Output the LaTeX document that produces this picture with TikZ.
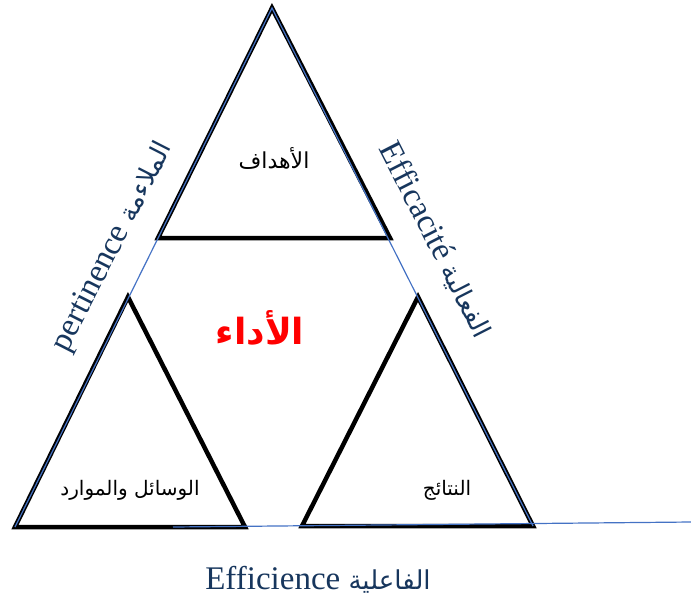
\documentclass[tikz,border=0pt]{standalone}
\usepackage{fontspec}
\setmainfont{Liberation Serif}
\newfontfamily\arabicfont[Script=Arabic]{DejaVu Sans}
\TeXXeTstate=1
\usetikzlibrary{positioning}

\definecolor{frameblue}{RGB}{68,114,196}
\definecolor{labelnavy}{RGB}{23,54,93}

\begin{document}
\begin{tikzpicture}[x=1pt,y=-1pt,
                    tri/.style={draw=black,line width=4.5pt,line join=miter},
                    outline/.style={draw=frameblue,line width=1.2pt},
                    inner/.style={font=\arabicfont\fontsize{20}{24}\selectfont},
                    side/.style={text=labelnavy,font=\fontsize{33}{36}\selectfont,inner sep=0pt}]
\useasboundingbox (0,0) rectangle (691,606);

% corners of the three triangles
\coordinate (top) at (272,8);
\coordinate (topl) at (158,238);
\coordinate (topr) at (390,238);
\coordinate (lefta) at (128,297);
\coordinate (leftl) at (15,527);
\coordinate (leftr) at (245,527);
\coordinate (righta) at (418,297);
\coordinate (rightl) at (302,526);
\coordinate (rightr) at (533,526);
\coordinate (basel) at (173,527);
\coordinate (baser) at (691,522);

\draw[tri] (top) -- (topl) -- (topr) -- cycle;
\draw[tri] (lefta) -- (leftl) -- (leftr) -- cycle;
\draw[tri] (righta) -- (rightl) -- (rightr) -- cycle;

\draw[outline] (leftl) -- (top) -- (rightr);
\draw[outline] (basel) -- (baser);

\node[inner,font=\arabicfont\fontsize{22}{26}\selectfont] (goals) at (274,158) {\beginR الأهداف\endR};
\node[inner] (means) at (130,490) {\beginR الوسائل والموارد\endR};
\node[inner] (results) at (447,490) {\beginR النتائج\endR};

\node[text=red,font=\arabicfont\bfseries\fontsize{36}{40}\selectfont] (perf) at (260,328) {\beginR الأداء\endR};

\node[side,rotate=63] (pert) at (113,247) {pertinence {\arabicfont\fontsize{26}{30}\selectfont\beginR الملاءمة\endR}};
\node[side,rotate=-63] (effic) at (436,240) {Efficacité {\arabicfont\fontsize{26}{30}\selectfont\beginR الفعالية\endR}};
\node[side] (effin) at (318,580) {Efficience {\arabicfont\fontsize{26}{30}\selectfont\beginR الفاعلية\endR}};

\end{tikzpicture}
\end{document}
